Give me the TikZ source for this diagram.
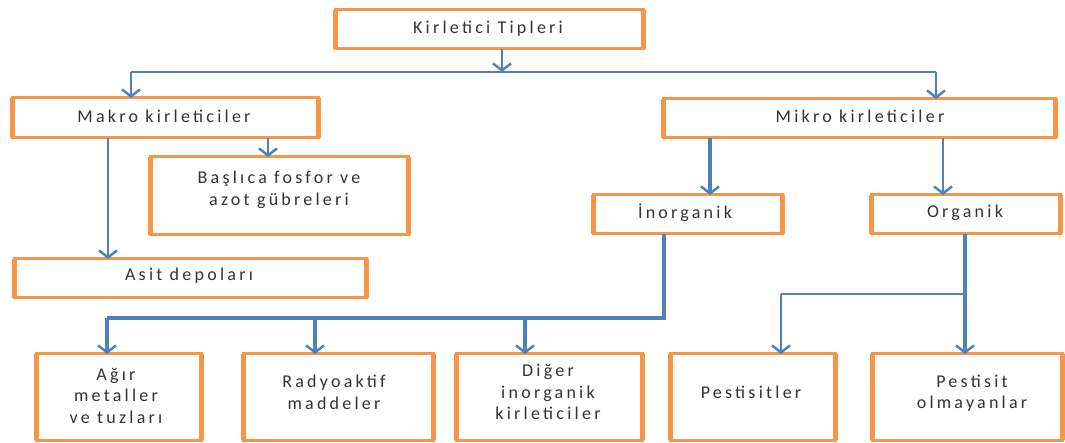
\documentclass[tikz,border=0pt]{standalone}
\usepackage{fontspec}
\setmainfont{Carlito}[LetterSpace=18]
\usetikzlibrary{arrows.meta}
\definecolor{ora}{HTML}{F79646}
\definecolor{blu}{HTML}{4F81BD}
\definecolor{txt}{HTML}{333333}
\begin{document}
\begin{tikzpicture}[x=1pt,y=-1pt,
  box/.style={draw=ora,line width=3pt,fill=white,inner sep=0pt,outer sep=0pt,
    append after command={(\tikzlastnode.north west) edge[draw=ora,line width=5pt] (\tikzlastnode.south west)
      (\tikzlastnode.north east) edge[draw=ora,line width=5pt] (\tikzlastnode.south east)}},
  lbl/.style={font=\fontsize{18}{21.5}\selectfont,text=txt,align=center,inner sep=0pt},
  ln/.style={draw=blu,line width=2.5pt},
  arr/.style={ln,-{Straight Barb[length=7pt,width=18pt,line width=2.5pt]}}]
\useasboundingbox (0,0) rectangle (1065,443);
% boxes
\node[box,minimum width=308pt,minimum height=39pt] (top) at (489,29.5) {};
\node[box,minimum width=306pt,minimum height=40pt] (makro) at (165,118) {};
\node[box,minimum width=392pt,minimum height=39pt] (mikro) at (859,118.5) {};
\node[box,minimum width=258pt,minimum height=78pt] (basl) at (279,196) {};
\node[box,minimum width=352pt,minimum height=39pt] (asit) at (190,278.5) {};
\node[box,minimum width=189pt,minimum height=39pt] (inorg) at (687.5,214.5) {};
\node[box,minimum width=189pt,minimum height=39pt] (org) at (965.5,214.5) {};
\node[box,minimum width=165pt,minimum height=86pt] (agir) at (118.5,397) {};
\node[box,minimum width=190pt,minimum height=86pt] (radyo) at (338,397) {};
\node[box,minimum width=186pt,minimum height=86pt] (diger) at (549.5,397) {};
\node[box,minimum width=165pt,minimum height=86pt] (pest) at (752.5,397) {};
\node[box,minimum width=190pt,minimum height=86pt] (pesto) at (967,397) {};
% labels
\node[lbl] (ttop) at (488,29) {Kirletici Tipleri};
\node[lbl] (tmakro) at (164,116) {Makro kirleticiler};
\node[lbl] (tmikro) at (860,116) {Mikro kirleticiler};
\node[lbl] (tbasl) at (279,190) {Başlıca fosfor ve\\azot gübreleri};
\node[lbl] (tasit) at (189,276) {Asit depoları};
\node[lbl] (tinorg) at (685,213) {İnorganik};
\node[lbl] (torg) at (965,213) {Organik};
\node[lbl] (tagir) at (116,395.5) {Ağır\\metaller\\ve tuzları};
\node[lbl] (tradyo) at (334,392.5) {Radyoaktif\\maddeler};
\node[lbl] (tdiger) at (548,392) {Diğer\\inorganik\\kirleticiler};
\node[lbl] (tpest) at (751,392) {Pestisitler};
\node[lbl] (tpesto) at (972,393) {Pestisit\\olmayanlar};
% junctions
\coordinate (j0) at (502,72);
\coordinate (jL) at (131,72);
\coordinate (jR) at (936,72);
\coordinate (xa) at (108,0);
\coordinate (xb) at (268,0);
\coordinate (xc) at (710,0);
\coordinate (xd) at (943,0);
\coordinate (ji) at (664,318);
\coordinate (x1) at (107,318);
\coordinate (x2) at (315,318);
\coordinate (x3) at (525,318);
\coordinate (xo) at (965,0);
\coordinate (jo) at (965,294);
\coordinate (xp) at (781,294);
% connectors
\draw[arr] (top.south -| j0) -- (j0);
\draw[ln,line width=2pt] (jL) -- (jR);
\draw[arr] (jL) -- (jL |- makro.north);
\draw[arr] (jR) -- (jR |- mikro.north);
\draw[arr] (makro.south -| xa) -- (asit.north -| xa);
\draw[arr] (makro.south -| xb) -- (basl.north -| xb);
\draw[arr,line width=4pt] (mikro.south -| xc) -- (inorg.north -| xc);
\draw[arr] (mikro.south -| xd) -- (org.north -| xd);
\draw[ln,line width=3.5pt] (inorg.south -| ji) -- (ji) -- (x1);
\draw[arr,line width=3.5pt] (x1) -- (agir.north -| x1);
\draw[arr,line width=3.5pt] (x2) -- (radyo.north -| x2);
\draw[arr,line width=3.5pt] (x3) -- (diger.north -| x3);
\draw[arr,line width=4pt] (org.south -| xo) -- (pesto.north -| xo);
\draw[ln,line width=2.5pt] (jo) -- (xp);
\draw[arr] (xp) -- (pest.north -| xp);
\end{tikzpicture}
\end{document}
